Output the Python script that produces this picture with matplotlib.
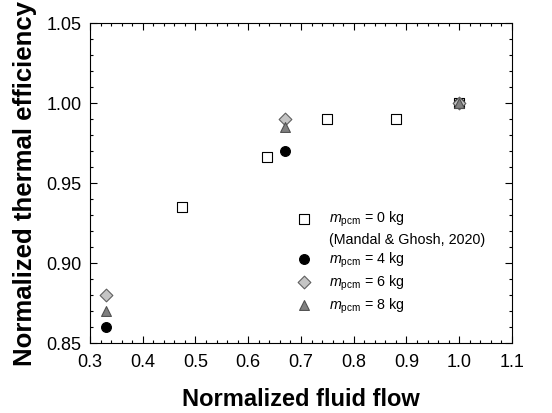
import matplotlib
matplotlib.use("Agg")
import matplotlib.pyplot as plt
from matplotlib.lines import Line2D
from matplotlib.ticker import MultipleLocator

plt.rcParams['font.family'] = ['Liberation Sans', 'DejaVu Sans']
plt.rcParams['mathtext.fontset'] = 'custom'
plt.rcParams['mathtext.rm'] = 'Liberation Sans'
plt.rcParams['mathtext.it'] = 'Liberation Sans:italic'

# data
x_0kg = [0.475, 0.635, 0.75, 0.88, 1.0]
y_0kg = [0.935, 0.966, 0.99, 0.99, 1.0]
x_4kg = [0.33, 0.67, 1.0]
y_4kg = [0.86, 0.97, 1.0]
x_6kg = [0.33, 0.67, 1.0]
y_6kg = [0.88, 0.99, 1.0]
x_8kg = [0.33, 0.67, 1.0]
y_8kg = [0.87, 0.985, 1.0]

fig = plt.figure(figsize=(5.52, 4.13), dpi=100)
ax = fig.add_axes([90/552, 1-343/413, 422/552, 320/413])

h0 = ax.scatter(x_0kg, y_0kg, marker="s", s=45, facecolor="white", edgecolor="black", linewidths=0.8, zorder=3)
h4 = ax.scatter(x_4kg, y_4kg, marker="o", s=50, facecolor="black", edgecolor="black", linewidths=0.8, zorder=3)
h6 = ax.scatter(x_6kg, y_6kg, marker="D", s=42, facecolor="#c4c4c4", edgecolor="#606060", linewidths=0.8, zorder=3)
h8 = ax.scatter(x_8kg, y_8kg, marker="^", s=50, facecolor="#808080", edgecolor="#505050", linewidths=0.8, zorder=4)

ax.set_xlim(0.3, 1.1)
ax.set_ylim(0.85, 1.05)
ax.xaxis.set_minor_locator(MultipleLocator(0.02))
ax.yaxis.set_minor_locator(MultipleLocator(0.01))
ax.set_xticks([0.3, 0.4, 0.5, 0.6, 0.7, 0.8, 0.9, 1.0, 1.1])
ax.set_xticklabels(["0.3", "0.4", "0.5", "0.6", "0.7", "0.8", "0.9", "1.0", "1.1"])
ax.set_yticks([0.85, 0.90, 0.95, 1.00, 1.05])
ax.set_yticklabels(["0.85", "0.90", "0.95", "1.00", "1.05"])
ax.tick_params(which="both", direction="in", top=True, right=True, labelsize=13)
ax.tick_params(which="major", length=5, width=0.8)
ax.tick_params(which="minor", length=2.5, width=0.8)
ax.tick_params(axis="x", pad=8)
ax.tick_params(axis="y", pad=6)

ax.set_xlabel("Normalized fluid flow", fontsize=17, fontweight="bold", labelpad=12)
ax.set_ylabel("Normalized thermal efficiency", fontsize=18.5, fontweight="bold", labelpad=7)

blank = Line2D([], [], linestyle="none", marker=None)
handles = [h0, blank, h4, h6, h8]
labels = ["$m_{\\rm pcm}$ = 0 kg", "(Mandal & Ghosh, 2020)",
          "$m_{\\rm pcm}$ = 4 kg", "$m_{\\rm pcm}$ = 6 kg", "$m_{\\rm pcm}$ = 8 kg"]
ax.legend(handles, labels, loc="upper left", bbox_to_anchor=(0.474, 0.417), frameon=False,
          fontsize=10.3, borderpad=0, borderaxespad=0, handlelength=2.0,
          handletextpad=0.75, labelspacing=0.26, scatterpoints=1)

fig.savefig("out.png", dpi=100)
